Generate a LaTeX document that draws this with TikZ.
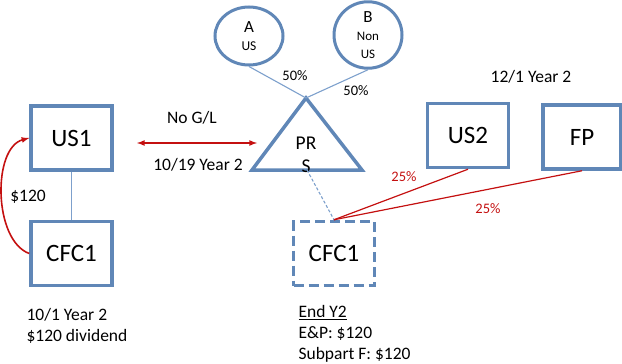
\documentclass[tikz,border=0pt]{standalone}
\usepackage{fontspec}
\setmainfont{Carlito}
\usetikzlibrary{shapes.geometric,positioning,calc}
\definecolor{entity}{RGB}{96,135,183}
\definecolor{ownline}{RGB}{125,160,204}
\definecolor{transfer}{RGB}{196,16,16}
\tikzstyle{box}=[draw=entity, line width=3.5pt, minimum width=81pt, minimum height=64pt, font=\fontsize{25}{30}\selectfont]
\tikzstyle{owner}=[ellipse, draw=entity, line width=3pt, minimum width=68pt, minimum height=58pt, align=center, inner sep=0pt, font=\fontsize{17}{18}\selectfont]
\tikzset{notetext/.style={font=\fontsize{17.5}{21}\selectfont}}
\tikzset{pct/.style={font=\fontsize{14.5}{17}\selectfont}}
\tikzset{ownership/.style={draw=ownline, line width=1.1pt}}
\tikzset{transfer line/.style={draw=transfer, line width=1.6pt}}
\tikzset{y=-1pt}
\tikzset{x=1pt}

\begin{document}
\begin{tikzpicture}
  \useasboundingbox (0,0) rectangle (622,364);
  %% Before the sale
  \draw (71.5,138) node[box] (US1) {US1};
  \draw (71.5,253.5) node[box] (CFC1) {CFC1};
  \draw[ownership] (US1) -- (CFC1);
  \draw[-latex,transfer line] (CFC1.west) to[out=160,in=195,looseness=0.85] (US1.west);
  \draw (28,197) node[notetext] (div) {\$120};
  \draw (23,326) node[notetext,anchor=west,align=left] (when1) {10/1 Year 2\\\$120 dividend};

  %% Partnership and its partners
  \coordinate (PRStop) at (306,98);
  \coordinate (PRSleft) at (252,170);
  \coordinate (PRSright) at (362,170);
  \coordinate (PRSfoot) at (307,170);
  \draw[draw=entity, line width=3.5pt, line join=miter] (PRSleft) -- (PRStop) -- (PRSright) -- cycle;
  \draw (306,154.5) node[font=\fontsize{19.5}{23}\selectfont, align=center] (PRS) {PR\\S};

  \draw (249,36) node[owner] (A) {A\\{\fontsize{13.5}{16}\selectfont US}};
  \draw (368,35) node[owner] (B) {B\\{\fontsize{13}{15}\selectfont Non}\\{\fontsize{13}{15}\selectfont US}};
  \draw[ownership] (A.south) -- (PRStop);
  \draw[ownership] (B.south) -- (PRStop);
  \draw (295,76) node[pct] (pctA) {50\%};
  \draw (356,91) node[pct] (pctB) {50\%};

  %% Sale of CFC1
  \coordinate (GLleft) at (137,143);
  \coordinate (GLright) at (257,143);
  \draw[latex-latex, transfer line] (GLleft) -- (GLright);
  \draw (192,118) node[notetext] (GL) {No G/L};
  \draw (198,165) node[notetext] (when2) {10/19 Year 2};

  %% After the sale
  \draw (468,135.5) node[box] (US2) {US2};
  \draw (582,137) node[box, minimum width=78pt] (FP) {FP};
  \draw (531,77) node[notetext] (when3) {12/1 Year 2};
  \draw (334,253.5) node[box, dash pattern=on 10pt off 5pt] (CFC1b) {CFC1};
  \draw[ownership, dash pattern=on 3pt off 2pt] (PRSfoot) -- (CFC1b.north);
  \draw[transfer line, line width=1.2pt] (CFC1b.north) -- (US2.south);
  \draw[transfer line, line width=1.2pt] (CFC1b.north) -- (FP.south);
  \draw (404,177) node[pct, text=transfer] (pctUS2) {25\%};
  \draw (488,209) node[pct, text=transfer] (pctFP) {25\%};
  \draw (295,334) node[notetext,anchor=west,align=left] (endY2) {\underline{End Y2}\\E\&P: \$120\\Subpart F: \$120};
\end{tikzpicture}
\end{document}
